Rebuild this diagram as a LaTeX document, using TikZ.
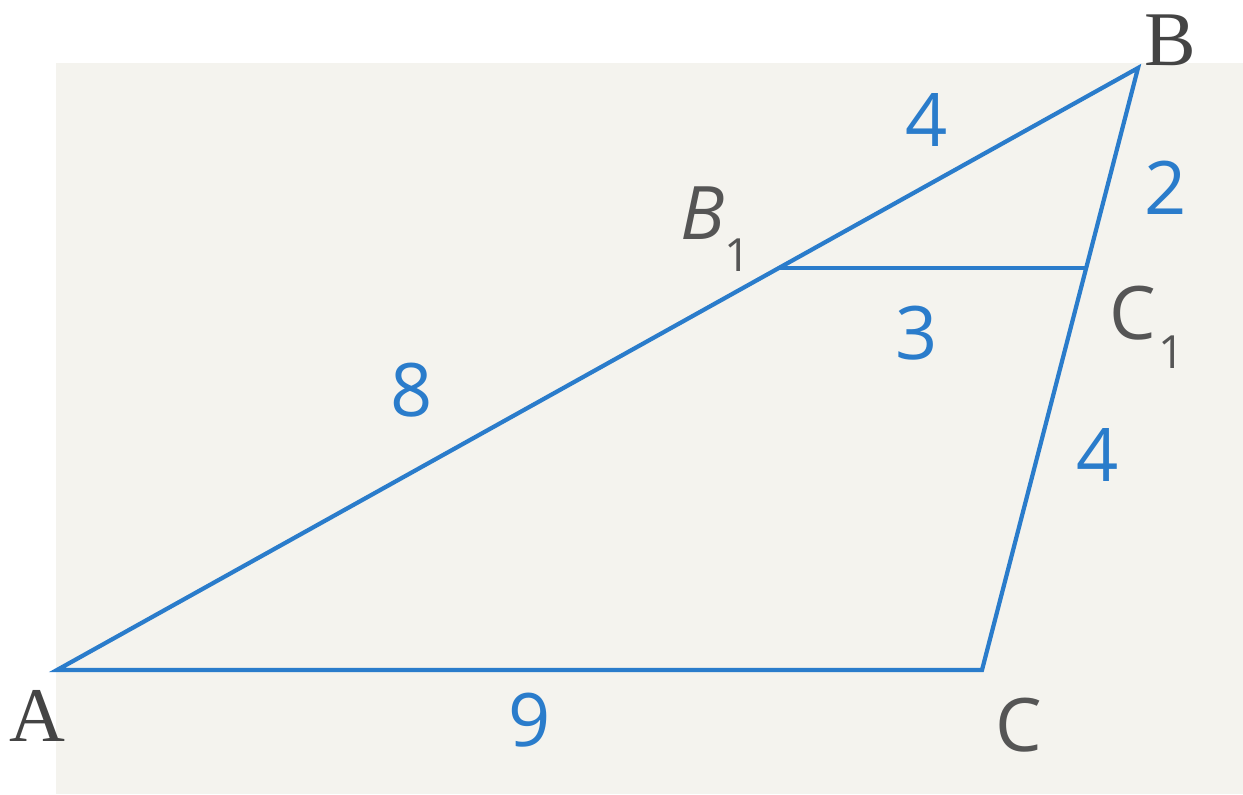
\documentclass[tikz,border=0pt]{standalone}
\usepackage{fontspec}
\setmainfont{Liberation Serif}
\newfontfamily\labsans{Open Sans}
\definecolor{bgc}{HTML}{F4F3EE}
\definecolor{lineblue}{HTML}{2A7CCB}
\definecolor{txtgray}{HTML}{555555}
\tikzset{
  px/.style={x=0.01cm,y=-0.01cm},
  side/.style={draw=lineblue,line width=1.2pt,line join=miter},
  num/.style={text=lineblue,font=\labsans\fontsize{21}{24}\selectfont,inner sep=0pt},
  vlab/.style={text=txtgray,font=\labsans\fontsize{21}{24}\selectfont,inner sep=0pt},
  serlab/.style={text=txtgray!80!black,font=\fontsize{22}{26}\selectfont,inner sep=0pt}
}
\begin{document}
\begin{tikzpicture}[px]
\useasboundingbox (0,0) rectangle (1243,794);
\fill[white] (0,0) rectangle (1243,794);
\fill[bgc] (56,63) rectangle (1243,794);
\coordinate (A) at (57,670);
\coordinate (C) at (982,670);
\coordinate (B) at (1138,68);
\coordinate (B1) at (778,268);
\coordinate (C1) at (1086,268);
\draw[side] (A) -- (B) -- (C) -- cycle;
\draw[side] (B1) -- (C1);
\node[serlab] (lA) at (37,716) {A};
\node[serlab] (lB) at (1170,40) {B};
\node[vlab] (lC) at (1019,725) {C};
\node[vlab] (lB1) at (703,213) {\itshape B};
\node[vlab,font=\labsans\fontsize{13}{15}\selectfont] (lB1s) at (738,255) {1};
\node[vlab] (lC1) at (1133,313) {C};
\node[vlab,font=\labsans\fontsize{13}{15}\selectfont] (lC1s) at (1172,352) {1};
\node[num] (n4a) at (927,120) {4};
\node[num] (n2) at (1166,188) {2};
\node[num] (n3) at (917,333) {3};
\node[num] (n8) at (412,390) {8};
\node[num] (n4b) at (1098,455) {4};
\node[num] (n9) at (530,720) {9};
\end{tikzpicture}
\end{document}
